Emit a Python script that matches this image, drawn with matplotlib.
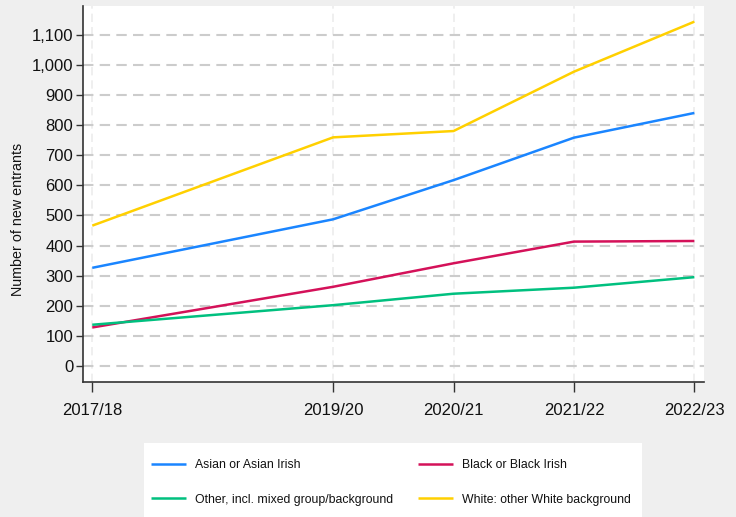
import matplotlib
matplotlib.use("Agg")
import matplotlib.pyplot as plt
from matplotlib.ticker import FuncFormatter
from matplotlib.patches import Rectangle
from matplotlib import font_manager

years = [2017, 2019, 2020, 2021, 2022]
year_labels = ["2017/18", "2019/20", "2020/21", "2021/22", "2022/23"]
asian = [326, 487, 617, 758, 840]
black = [128, 263, 341, 413, 415]
other = [137, 202, 240, 260, 295]
white_other = [466, 759, 780, 977, 1143]
yticks = list(range(0, 1101, 100))

series = [
    ("Asian or Asian Irish", asian, "#1a85ff"),
    ("Black or Black Irish", black, "#d41159"),
    ("Other, incl. mixed group/background", other, "#00c07f"),
    ("White: other White background", white_other, "#ffd000"),
]

names = {f.name for f in font_manager.fontManager.ttflist}
narrow = "Liberation Sans Narrow" in names
nfam = ["Liberation Sans Narrow", "Liberation Sans", "DejaVu Sans"] if narrow else ["Liberation Sans", "DejaVu Sans"]
tick_fs = 13.5 if narrow else 12
leg_fs = 10.5 if narrow else 8.8

plt.rcParams["font.family"] = ["Liberation Sans", "DejaVu Sans"]
bg = "#efefef"
fig = plt.figure(figsize=(7.36, 5.17), dpi=100, facecolor=bg)
ax = fig.add_axes([83/736, 1-381.7/517, (704-83)/736, (381.7-6)/517])
ax.set_facecolor("white")

lines = {}
for name, vals, col in series:
    lines[name], = ax.plot(years, vals, color=col, lw=1.8, label=name, solid_capstyle="butt")

ax.set_xlim(2016.923, 2022.08)
ax.set_ylim(-52, 1195)
ax.set_xticks(years)
ax.set_xticklabels(year_labels, fontsize=tick_fs, family=nfam)
ax.set_yticks(yticks)
ax.yaxis.set_major_formatter(FuncFormatter(lambda v, p: f"{int(v):,}"))
for t in ax.get_yticklabels():
    t.set_family(nfam)
ax.tick_params(axis="y", labelsize=tick_fs, length=5, width=1, color="#333333", pad=2, labelcolor="#111111")
ax.tick_params(axis="x", labelsize=tick_fs, length=7, width=1, color="#333333", pad=8, labelcolor="#111111")

ax.grid(axis="y", color="#cccccc", lw=1.5, linestyle=(0, (5, 3)))
ax.grid(axis="x", color="#ececec", lw=1.2, linestyle=(0, (5, 3)))
ax.set_axisbelow(True)
for s in ["top", "right"]:
    ax.spines[s].set_visible(False)
for s in ["left", "bottom"]:
    ax.spines[s].set_color("#333333")
    ax.spines[s].set_linewidth(1.2)

fig.text(18/736, 1-219/517, "Number of new entrants", rotation=90,
         ha="center", va="center", fontsize=10.3, color="#111111")

# legend background box
fig.add_artist(Rectangle((144/736, 0), (642-144)/736, (517-443)/517,
                         transform=fig.transFigure, facecolor="white",
                         edgecolor="none", zorder=0))

col1 = [series[0][0], series[2][0]]
col2 = [series[1][0], series[3][0]]
fpx = leg_fs * 100 / 72
common = dict(loc="upper left", frameon=False,
              handlelength=35/fpx, handletextpad=9/fpx,
              labelspacing=1.85, borderpad=0, borderaxespad=0,
              prop={"family": nfam, "size": leg_fs})
leg1 = fig.legend([lines[n] for n in col1], col1,
                  bbox_to_anchor=(151/736, 1-459/517), **common)
leg2 = fig.legend([lines[n] for n in col2], col2,
                  bbox_to_anchor=(418/736, 1-459/517), **common)
for lg in (leg1, leg2):
    for lh in lg.get_lines():
        lh.set_linewidth(1.8)
    for t in lg.get_texts():
        t.set_color("#111111")

fig.savefig("out.png", dpi=100, facecolor=bg)
